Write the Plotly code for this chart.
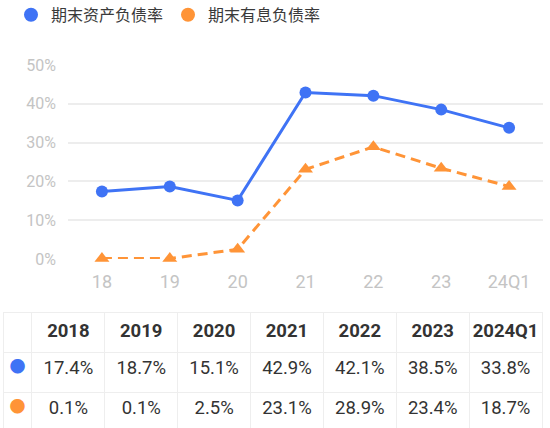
import plotly.graph_objects as go

# x labels on the chart and full year labels in the table
cats = ["18", "19", "20", "21", "22", "23", "24Q1"]
years = ["2018", "2019", "2020", "2021", "2022", "2023", "2024Q1"]

# 期末资产负债率 / 期末有息负债率 (%)
asset_ratio = [17.4, 18.7, 15.1, 42.9, 42.1, 38.5, 33.8]
debt_ratio = [0.1, 0.1, 2.5, 23.1, 28.9, 23.4, 18.7]

names = ["期末资产负债率", "期末有息负债率"]
y_ticks = [0, 10, 20, 30, 40, 50]
blue = "#3F73F5"
orange = "#FF9437"

W, H = 550, 428
font = "Roboto, 'Noto Sans CJK SC', sans-serif"

fig = go.Figure()

fig.add_trace(go.Scatter(
    x=cats, y=asset_ratio, mode="lines+markers", showlegend=False,
    line=dict(color=blue, width=3),
    marker=dict(symbol="circle", size=12, color=blue),
    cliponaxis=False, hoverinfo="skip"))
fig.add_trace(go.Scatter(
    x=cats, y=debt_ratio, mode="lines+markers", showlegend=False,
    line=dict(color=orange, width=3, dash="10px,6px"),
    marker=dict(symbol="triangle-up", size=13, color=orange),
    cliponaxis=False, hoverinfo="skip"))

# legend entries only show round dots
for nm, c in zip(names, [blue, orange]):
    fig.add_trace(go.Scatter(x=[None], y=[None], mode="markers", name=nm,
                             marker=dict(symbol="circle", size=14, color=c)))

# data table under the chart
dot = "●"
tbl_cols = [["", dot, dot]]
for i, y in enumerate(years):
    tbl_cols.append([y, f"{asset_ratio[i]}%", f"{debt_ratio[i]}%"])
header_vals = [c[0] for c in tbl_cols]
cell_vals = [c[1:] for c in tbl_cols]
cell_colors = [[blue, orange]] + [["#333333", "#333333"]] * len(years)

fig.add_trace(go.Table(
    domain=dict(x=[3 / W, 542 / W], y=[0, 1 - 312 / H]),
    columnwidth=[29] + [73] * len(years),
    header=dict(values=[f"<b>{v}</b>" for v in header_vals],
                height=40, align="center", fill_color="white",
                line=dict(color="#EEEEEE", width=1),
                font=dict(family=font, size=18.5, color="#333333")),
    cells=dict(values=cell_vals, height=40, align="center",
               fill_color="white",
               line=dict(color="#EEEEEE", width=1),
               font=dict(family=font, size=[16] + [18.5] * len(years),
                         color=cell_colors)),
))

fig.update_layout(
    template="none",
    width=W, height=H,
    margin=dict(l=0, r=0, t=0, b=0, autoexpand=False),
    paper_bgcolor="white", plot_bgcolor="white",
    font=dict(family=font),
    hovermode=False,
    legend=dict(orientation="h", x=0.02, y=1.005, xanchor="left", yanchor="top",
                font=dict(size=16, color="#3A3A3A"), itemsizing="trace",
                itemwidth=30, tracegroupgap=0),
    xaxis=dict(type="category", domain=[68 / W, 543 / W], range=[-0.5, 6.5],
               showgrid=False, zeroline=False,
               showline=False, ticks="", automargin=False,
               ticklabelstandoff=10,
               tickfont=dict(size=18, color="#C4C4C4")),
    yaxis=dict(domain=[1 - 259 / H, 1 - 65 / H], range=[0, 50],
               tickvals=y_ticks, ticktext=[f"{v}%" for v in y_ticks],
               showgrid=True, gridcolor="#EDEDED", gridwidth=1.5,
               zeroline=False, showline=False, ticks="", automargin=False,
               ticklabelstandoff=11,
               tickfont=dict(size=16, color="#C4C4C4")),
)

fig.write_html("out.html", config={"displayModeBar": False},
               post_script="document.body.style.margin='0';")
